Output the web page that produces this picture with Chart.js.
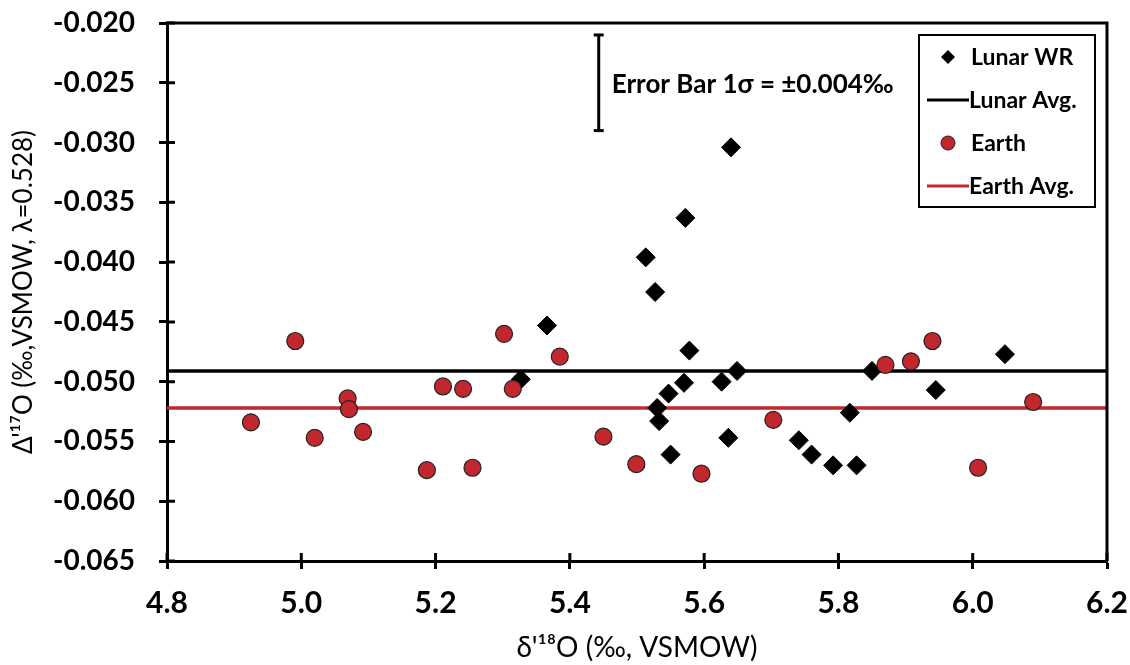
<!DOCTYPE html>
<html>
<head>
<meta charset="utf-8">
<script src="https://cdn.jsdelivr.net/npm/chart.js@4.4.1/dist/chart.umd.min.js"></script>
<style>
  html, body { margin: 0; padding: 0; background: #fff; }
  #wrap { width: 1130px; height: 665px; }
</style>
</head>
<body>
<div id="wrap"><canvas id="myChart" width="1130" height="665"></canvas></div>
<script>
// lunar whole rock samples
var lunarX = [5.327, 5.366, 5.513, 5.527, 5.530, 5.533, 5.547, 5.550, 5.570, 5.572, 5.578, 5.626,
              5.636, 5.640, 5.649, 5.741, 5.760, 5.792, 5.817, 5.827, 5.850, 5.945, 6.048];
var lunarY = [-0.0498, -0.0453, -0.0396, -0.0425, -0.0522, -0.0533, -0.0510, -0.0561, -0.0501, -0.0363, -0.0474, -0.0500,
              -0.0547, -0.0304, -0.0491, -0.0549, -0.0561, -0.0570, -0.0526, -0.0570, -0.0491, -0.0507, -0.0477];

// terrestrial samples
var earthX = [4.925, 4.991, 5.020, 5.069, 5.071, 5.092, 5.187, 5.211, 5.241, 5.255, 5.302,
              5.315, 5.385, 5.450, 5.499, 5.596, 5.703, 5.870, 5.908, 5.940, 6.008, 6.090];
var earthY = [-0.0534, -0.0466, -0.0547, -0.0514, -0.0523, -0.0542, -0.0574, -0.0504, -0.0506, -0.0572, -0.0460,
              -0.0506, -0.0479, -0.0546, -0.0569, -0.0577, -0.0532, -0.0486, -0.0483, -0.0466, -0.0572, -0.0517];

var lunarAvg = -0.0491;
var earthAvg = -0.0522;

var errX = 5.443;
var errY = -0.025;
var errSigma = 0.004;

var xMin = 4.8, xMax = 6.2, xStep = 0.2;
var yMin = -0.065, yMax = -0.020, yStep = 0.005;

var RED = '#c1272d';

function pts(xs, ys) {
    var out = [];
    for (var i = 0; i < xs.length; i++) out.push({x: xs[i], y: ys[i]});
    return out;
}

function noPad(s) {
    s.paddingTop = 0; s.paddingBottom = 0; s.paddingLeft = 0; s.paddingRight = 0;
}

// ticks crossing into the plot, frame on top/right, legend box and error bar text
var extras = {
    id: 'extras',
    afterDatasetsDraw: function(chart) {
        var ctx = chart.ctx;
        var a = chart.chartArea;
        var xs = chart.scales.x, ys = chart.scales.y;
        ctx.save();
        ctx.strokeStyle = '#000';
        ctx.lineWidth = 3;
        ctx.beginPath();
        ctx.moveTo(a.left - 1.5, a.top);
        ctx.lineTo(a.right, a.top);
        ctx.lineTo(a.right, a.bottom);
        ctx.stroke();
        ctx.beginPath();
        xs.ticks.forEach(function(t) {
            var px = xs.getPixelForValue(t.value);
            ctx.moveTo(px, a.bottom);
            ctx.lineTo(px, a.bottom - 8);
        });
        ys.ticks.forEach(function(t) {
            var py = ys.getPixelForValue(t.value);
            ctx.moveTo(a.left, py);
            ctx.lineTo(a.left + 8, py);
        });
        ctx.stroke();

        // error bar label
        ctx.fillStyle = '#000';
        ctx.font = 'bold 26px Lato';
        ctx.textAlign = 'left';
        ctx.textBaseline = 'middle';
        ctx.fillText('Error Bar 1\u03c3 = \u00b10.004\u2030', xs.getPixelForValue(errX) + 13, ys.getPixelForValue(errY) + 2);

        // legend
        var lx = a.right - 188, ly = a.top + 12, lw = 176, lh = 172;
        ctx.fillStyle = '#fff';
        ctx.fillRect(lx, ly, lw, lh);
        ctx.lineWidth = 2;
        ctx.strokeRect(lx, ly, lw, lh);
        var items = chart.data.datasets.filter(function(d) { return d.inLegend; });
        items.forEach(function(d, i) {
            var cy = ly + 22 + i * 43;
            var cx = lx + 29;
            if (d.kind === 'diamond') {
                ctx.fillStyle = '#000';
                ctx.beginPath();
                ctx.moveTo(cx, cy - 7); ctx.lineTo(cx + 7, cy); ctx.lineTo(cx, cy + 7); ctx.lineTo(cx - 7, cy);
                ctx.closePath();
                ctx.fill();
            } else if (d.kind === 'circle') {
                ctx.fillStyle = d.backgroundColor;
                ctx.strokeStyle = '#222';
                ctx.lineWidth = 1;
                ctx.beginPath();
                ctx.arc(cx, cy, 7, 0, Math.PI * 2);
                ctx.fill();
                ctx.stroke();
            } else {
                ctx.strokeStyle = d.borderColor;
                ctx.lineWidth = 3;
                ctx.beginPath();
                ctx.moveTo(lx + 8, cy);
                ctx.lineTo(lx + 50, cy);
                ctx.stroke();
            }
            ctx.fillStyle = '#000';
            ctx.font = 'bold 23px Lato';
            ctx.fillText(d.label, d.kind === 'line' ? lx + 50 : lx + 52, cy + 1);
        });
        ctx.restore();
    }
};

var ctx = document.getElementById('myChart').getContext('2d');
var chart = new Chart(ctx, {
    type: 'scatter',
    data: {
        datasets: [
            {
                label: 'Lunar WR', kind: 'diamond', inLegend: true,
                data: pts(lunarX, lunarY),
                pointStyle: 'rectRot', pointRadius: 9.5,
                backgroundColor: '#000', borderColor: '#000', borderWidth: 1,
                order: 2
            },
            {
                label: 'Lunar Avg.', kind: 'line', inLegend: true, type: 'line',
                data: [{x: xMin, y: lunarAvg}, {x: xMax, y: lunarAvg}],
                borderColor: '#000', borderWidth: 3.5, pointRadius: 0, fill: false,
                order: 4
            },
            {
                label: 'Earth', kind: 'circle', inLegend: true,
                data: pts(earthX, earthY),
                pointStyle: 'circle', pointRadius: 8.5,
                backgroundColor: RED, borderColor: '#222', borderWidth: 1.2,
                order: 1
            },
            {
                label: 'Earth Avg.', kind: 'line', inLegend: true, type: 'line',
                data: [{x: xMin, y: earthAvg}, {x: xMax, y: earthAvg}],
                borderColor: RED, borderWidth: 3.5, pointRadius: 0, fill: false,
                order: 3
            },
            {
                label: 'err', type: 'line',
                data: [{x: errX, y: errY + errSigma}, {x: errX, y: errY - errSigma}],
                borderColor: '#000', borderWidth: 3,
                pointStyle: 'line', pointRadius: 5, pointBorderWidth: 3, pointBorderColor: '#000',
                order: 0
            }
        ]
    },
    options: {
        responsive: false,
        animation: false,
        layout: { padding: { top: 23, right: 23, left: 0, bottom: 0 } },
        plugins: { legend: { display: false }, tooltip: { enabled: false } },
        scales: {
            x: {
                type: 'linear', min: xMin, max: xMax,
                afterFit: function(s) { s.height = 104; noPad(s); },
                ticks: {
                    stepSize: xStep, color: '#000', padding: 16,
                    font: { family: "'Liberation Sans Narrow', Lato", size: 30, weight: 'bold' },
                    callback: function(v) { return v.toFixed(1); }
                },
                grid: { drawOnChartArea: false, color: '#000', tickLength: 8, tickWidth: 3 },
                border: { color: '#000', width: 3 },
                title: {
                    display: true, text: "\u03b4'\u00b9\u2078O (\u2030, VSMOW)", color: '#000',
                    font: { family: 'Lato', size: 28 }, padding: { top: 0, bottom: 0 }
                }
            },
            y: {
                type: 'linear', min: yMin, max: yMax,
                afterFit: function(s) { s.width = 167; noPad(s); },
                ticks: {
                    stepSize: yStep, color: '#000', padding: 24,
                    font: { family: 'Lato', size: 28, weight: 'bold' },
                    callback: function(v) { return v.toFixed(3); }
                },
                grid: { drawOnChartArea: false, color: '#000', tickLength: 8, tickWidth: 3 },
                border: { color: '#000', width: 3 },
                title: {
                    display: true, text: "\u0394'\u00b9\u2077O (\u2030,VSMOW, \u03bb=0.528)", color: '#000',
                    font: { family: 'Lato', size: 26 }, padding: { top: 8, bottom: 0 }
                }
            }
        }
    },
    plugins: [extras]
});
</script>
</body>
</html>
